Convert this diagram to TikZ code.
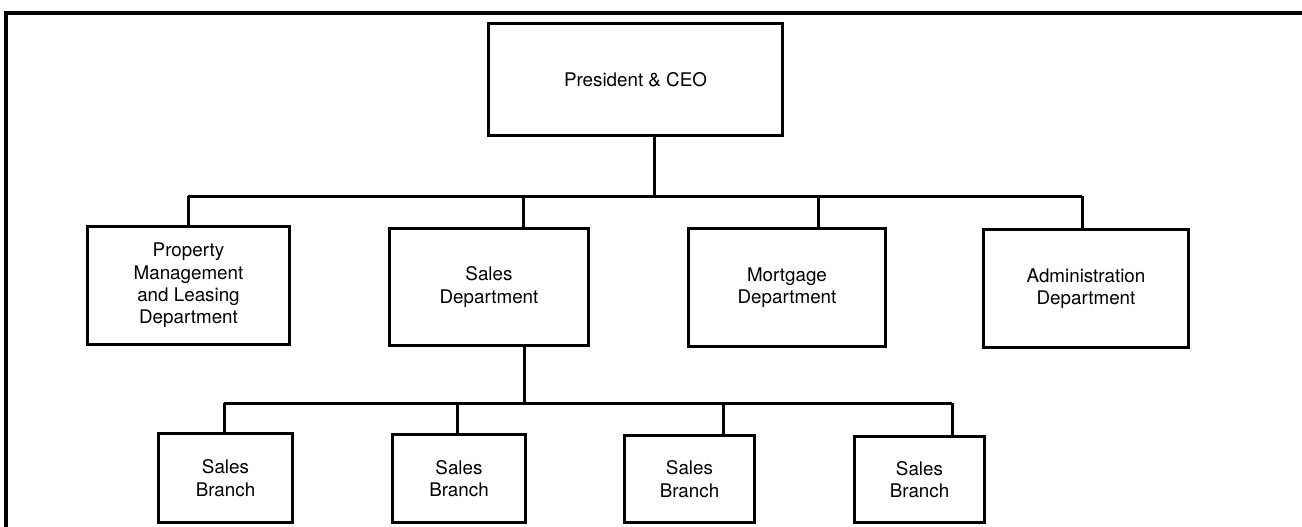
\documentclass[tikz,border=0pt]{standalone}
\usepackage{fontspec}
\setmainfont{TeX Gyre Heros}
\begin{document}
\begin{tikzpicture}[x=1pt,y=-1pt,
  orgbox/.style={draw, line width=3.4pt, rectangle, inner sep=0pt, align=center,
    font=\fontsize{18.8}{22.4}\selectfont},
  conn/.style={line width=3pt},
  frameline/.style={line width=3.2pt}]
\useasboundingbox (0,0) rectangle (1302,527);
% frame
\draw[frameline] (1310,13) -- (6,13) -- (6,540);
% nodes
\node[orgbox, minimum width=294pt, minimum height=112pt] (p) at (635.5,79.5) {President \& CEO};
\node[orgbox, minimum width=202pt, minimum height=118pt] (pm) at (188.5,285.5) {Property\\Management\\and Leasing\\Department};
\node[orgbox, minimum width=199pt, minimum height=117pt] (sd) at (489,287) {Sales\\Department};
\node[orgbox, minimum width=197pt, minimum height=118pt] (md) at (787,287.5) {Mortgage\\Department};
\node[orgbox, minimum width=205pt, minimum height=118pt] (ad) at (1086,288.5) {Administration\\Department};
\node[orgbox, minimum width=134pt, minimum height=89pt] (b1) at (225.5,478) {Sales\\Branch};
\node[orgbox, minimum width=133pt, minimum height=88pt] (b2) at (459,478.5) {Sales\\Branch};
\node[orgbox, minimum width=130pt, minimum height=87pt] (b3) at (689.5,479) {Sales\\Branch};
\node[orgbox, minimum width=130pt, minimum height=86pt] (b4) at (919.5,479.5) {Sales\\Branch};
% junctions
\coordinate (bt) at (654,196);
\coordinate (j1) at (188,196);
\coordinate (j2) at (523,196);
\coordinate (j3) at (818,196);
\coordinate (j4) at (1082,196);
\coordinate (st) at (524,403);
\coordinate (k1) at (224,403);
\coordinate (k2) at (457,403);
\coordinate (k3) at (723,403);
\coordinate (k4) at (952,403);
% connectors
\draw[conn] (p.south -| bt) -- (bt);
\draw[conn] (j1) -- (j4);
\draw[conn] (j1) -- (pm.north -| j1);
\draw[conn] (j2) -- (sd.north -| j2);
\draw[conn] (j3) -- (md.north -| j3);
\draw[conn] (j4) -- (ad.north -| j4);
\draw[conn] (sd.south -| st) -- (st);
\draw[conn] (k1) -- (k4);
\draw[conn] (k1) -- (b1.north -| k1);
\draw[conn] (k2) -- (b2.north -| k2);
\draw[conn] (k3) -- (b3.north -| k3);
\draw[conn] (k4) -- (b4.north -| k4);
\end{tikzpicture}
\end{document}
